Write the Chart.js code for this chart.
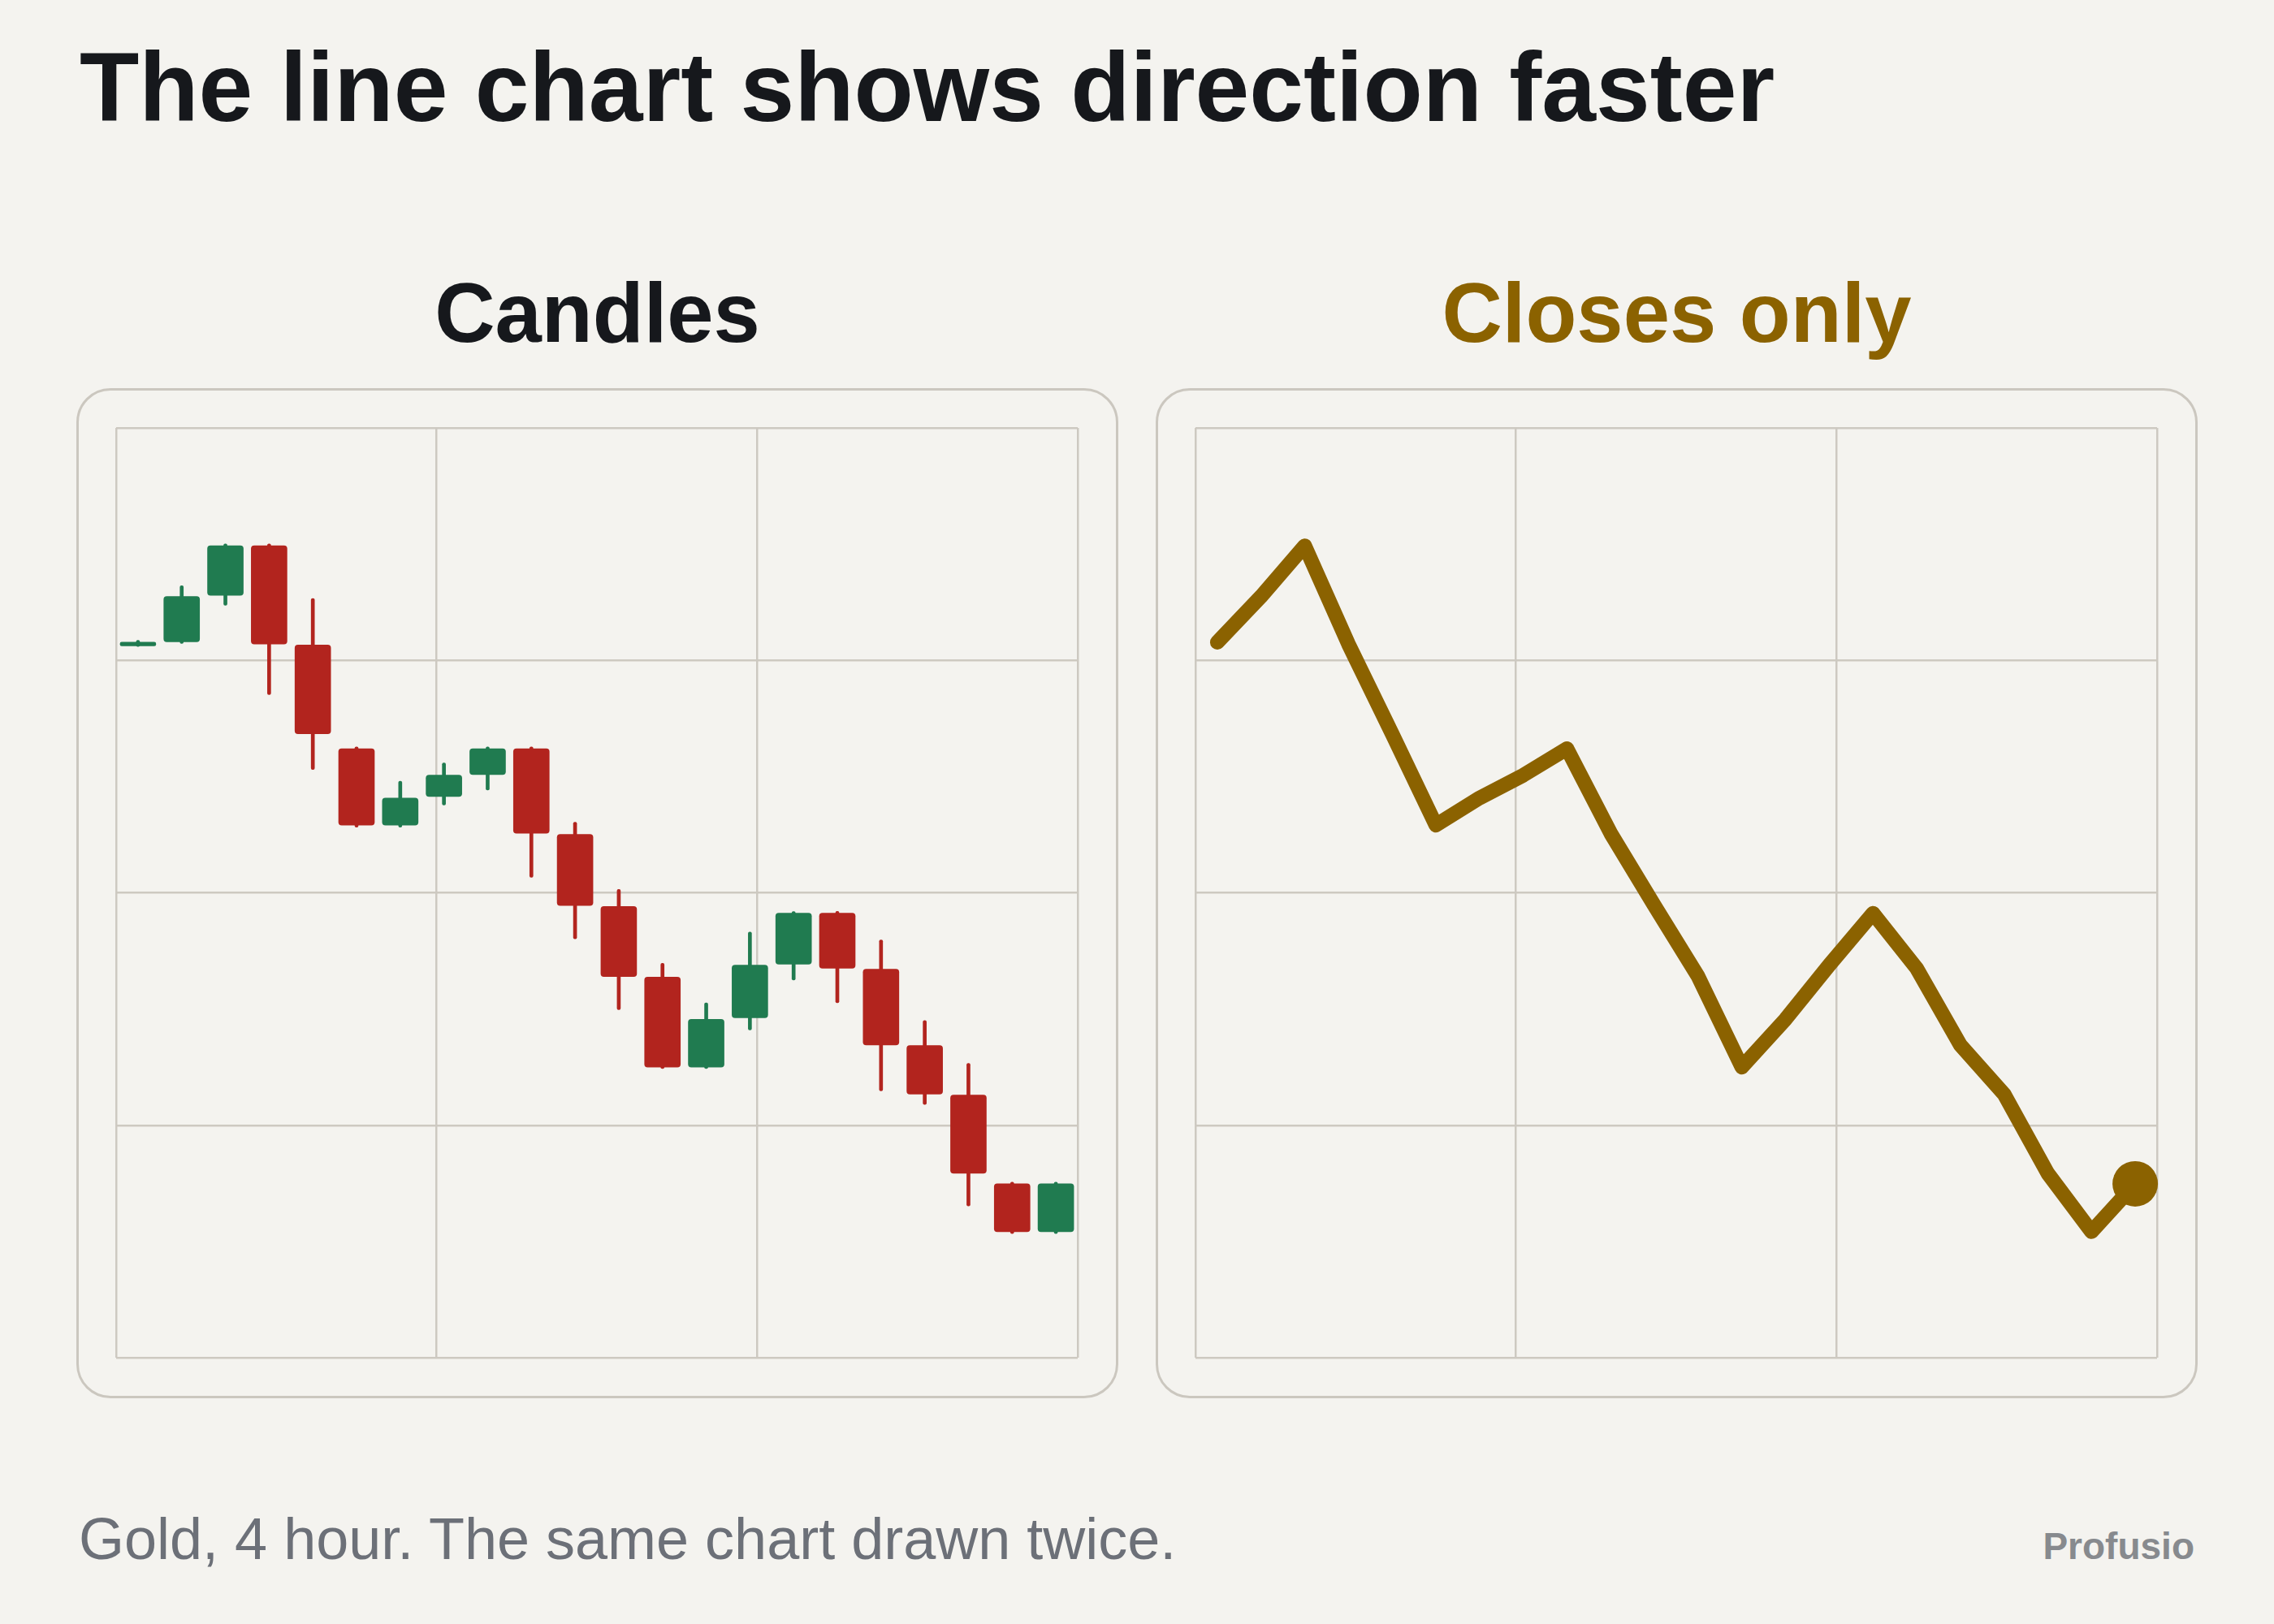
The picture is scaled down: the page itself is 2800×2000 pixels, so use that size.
<!DOCTYPE html>
<html><head><meta charset="utf-8">
<script src="https://cdn.jsdelivr.net/npm/chart.js@4.4.1/dist/chart.umd.min.js"></script>
<style>
html,body{margin:0;padding:0;background:#f4f3ef;}
body{width:2800px;height:2000px;position:relative;overflow:hidden;font-family:"Liberation Sans",Arial,Helvetica,sans-serif;}
.t{position:absolute;white-space:nowrap;}
#title{left:98px;top:47px;font-size:120px;line-height:120px;font-weight:700;color:#16181c;}
.ptitle{top:334px;width:1283px;font-size:103px;line-height:103px;font-weight:700;text-align:center;}
.panel{position:absolute;top:478px;width:1283px;height:1244px;box-sizing:border-box;border:3px solid #cbc7bf;border-radius:42px;}
.panel canvas{position:absolute;left:0;top:0;}
#foot{left:97px;top:1859px;font-size:72px;line-height:72px;color:#6c7078;}
#brand{right:98px;top:1881px;font-size:46px;line-height:46px;font-weight:700;color:#878a8e;}
</style>
</head>
<body>
<div id="title" class="t">The line chart shows direction faster</div>
<div class="t ptitle" style="left:94px;color:#16181c;">Candles</div>
<div class="t ptitle" style="left:1423px;color:#8b6200;">Closes only</div>
<div class="panel" style="left:94px;"><canvas id="c1" width="1277" height="1238"></canvas></div>
<div class="panel" style="left:1423px;"><canvas id="c2" width="1277" height="1238"></canvas></div>
<div id="foot" class="t">Gold, 4 hour. The same chart drawn twice.</div>
<div id="brand" class="t">Profusio</div>
<script>
const categories = ["Mon 00:00","Mon 04:00","Mon 08:00","Mon 12:00","Mon 16:00","Mon 20:00","Tue 00:00","Tue 04:00","Tue 08:00","Tue 12:00","Tue 16:00","Tue 20:00","Wed 00:00","Wed 04:00","Wed 08:00","Wed 12:00","Wed 16:00","Wed 20:00","Thu 00:00","Thu 04:00","Thu 08:00","Thu 12:00"];
const opens  = [2330.62,2330.80,2332.80,2334.93,2330.66,2326.20,2322.91,2324.14,2325.09,2326.20,2322.51,2319.41,2316.37,2312.50,2314.62,2316.93,2319.12,2316.71,2313.43,2311.30,2307.48,2305.42];
const highs  = [2330.86,2333.21,2335.01,2335.01,2332.66,2326.28,2324.80,2325.59,2326.28,2326.28,2323.04,2320.15,2316.97,2315.26,2318.31,2319.19,2319.20,2317.97,2314.50,2312.66,2307.55,2307.55];
const lows   = [2330.60,2330.73,2332.37,2328.53,2325.30,2322.82,2322.82,2323.78,2324.42,2320.67,2318.02,2314.97,2312.44,2312.44,2314.10,2316.25,2315.27,2311.48,2310.89,2306.53,2305.34,2305.34];
const closes = [2330.78,2332.75,2334.93,2330.70,2326.84,2322.91,2324.08,2325.06,2326.20,2322.56,2319.45,2316.40,2312.50,2314.56,2316.89,2319.12,2316.75,2313.45,2311.34,2307.93,2305.42,2307.48];
const yMin = 2300, yMax = 2340, yStep = 10;

const UP = '#207b50', DOWN = '#b2241e', GOLD = '#8b6200', GRID = '#cdc9c1';
const candleColor = ctx => closes[ctx.dataIndex] >= opens[ctx.dataIndex] ? UP : DOWN;

function scales() {
  return {
    x: { type: 'category', offset: true, display: false },
    xg: { type: 'linear', axis: 'x', position: 'bottom', min: 0, max: 3, offset: false,
          ticks: { display: false, stepSize: 1 },
          grid: { color: GRID, lineWidth: 2.5, drawTicks: false, offset: false },
          border: { display: false } },
    y: { type: 'linear', min: yMin, max: yMax, beginAtZero: false,
         ticks: { display: false, stepSize: yStep },
         grid: { color: GRID, lineWidth: 2.5, drawTicks: false, offset: false },
         border: { display: false } }
  };
}
const common = {
  responsive: false, animation: false, devicePixelRatio: 1,
  layout: { padding: { left: 46, right: 47, top: 46, bottom: 47 } },
  plugins: { legend: { display: false }, tooltip: { enabled: false } },
  events: []
};

new Chart(document.getElementById('c1'), {
  type: 'bar',
  data: {
    labels: categories,
    datasets: [
      { label: 'Body', data: categories.map((c, i) => [opens[i], closes[i]]),
        backgroundColor: candleColor, barThickness: 44, grouped: false,
        borderRadius: 4, borderSkipped: false, minBarLength: 4 },
      { label: 'Wick', data: categories.map((c, i) => [lows[i], highs[i]]),
        backgroundColor: candleColor, barThickness: 4, grouped: false,
        borderRadius: 2, borderSkipped: false }
    ]
  },
  options: Object.assign({}, common, { scales: scales() })
});

new Chart(document.getElementById('c2'), {
  type: 'line',
  data: {
    labels: categories,
    datasets: [
      { label: 'Close', data: closes, borderColor: GOLD, backgroundColor: GOLD,
        borderWidth: 18, tension: 0, borderJoinStyle: 'round', borderCapStyle: 'round',
        pointRadius: ctx => ctx.dataIndex === closes.length - 1 ? 28 : 0,
        pointBorderWidth: 0, pointBackgroundColor: GOLD, clip: false }
    ]
  },
  options: Object.assign({}, common, { scales: scales() })
});
</script>
</body></html>
